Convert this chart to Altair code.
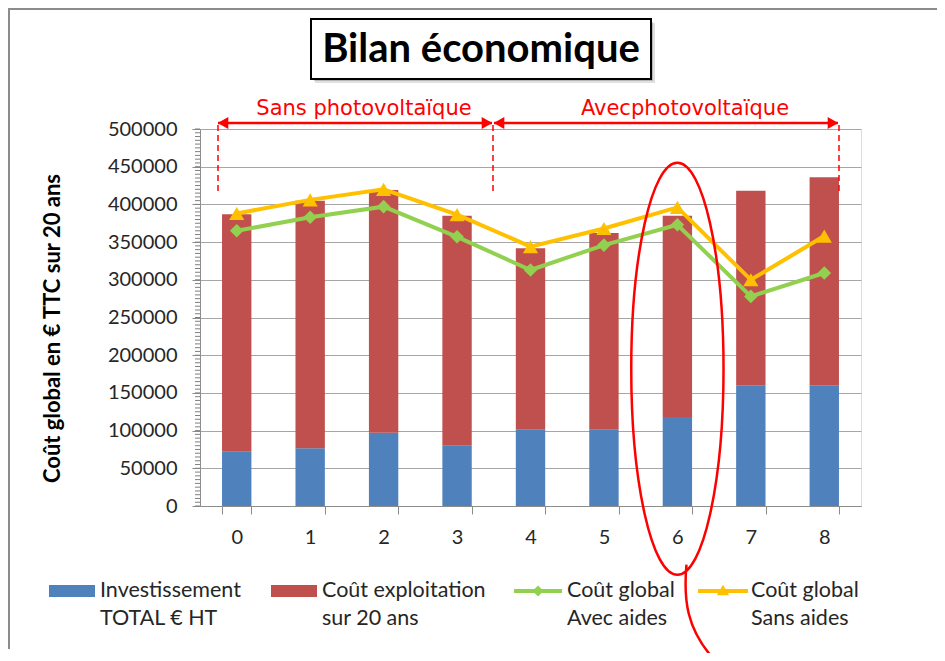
import altair as alt
import pandas as pd

# ---- data ----
categories = ["0", "1", "2", "3", "4", "5", "6", "7", "8"]
investissement = [72000, 76500, 97000, 80000, 101000, 101000, 118000, 160000, 160000]
exploitation = [315000, 328500, 322000, 305000, 241000, 261000, 267000, 258000, 276000]
global_avec_aides = [365000, 383000, 397000, 357000, 313000, 346000, 373000, 278000, 309000]
global_sans_aides = [388000, 406000, 420000, 386500, 344000, 368000, 396000, 300000, 358000]
y_ticks = [0, 50000, 100000, 150000, 200000, 250000, 300000, 350000, 400000, 450000, 500000]
minor_ticks = list(range(0, 500001, 5000))

series_names = ["Investissement|TOTAL € HT", "Coût exploitation|sur 20 ans",
                "Coût global|Avec aides", "Coût global|Sans aides"]
title_text = "Bilan économique"
y_title = "Coût global en € TTC sur 20 ans"
group_labels = ["Sans photovoltaïque", "Avecphotovoltaïque"]
highlight_category = "6"
highlight_value = 182000

BLUE, RED, GREEN, GOLD = "#4F81BD", "#C0504D", "#92D050", "#FFC000"
ANN = "#FF0000"
FONT = "Lato"
W, H = 661, 377

df = pd.DataFrame({
    "cat": categories,
    "inv": investissement,
    "expl": exploitation,
    "avec": global_avec_aides,
    "sans": global_sans_aides,
})

xaxis = alt.Axis(title=None, labelAngle=0, labelFont=FONT, labelFontSize=20,
                 labelColor="#262626", labelPadding=13, tickSize=8,
                 tickBand="extent", tickColor="#8c8c8c", domainColor="#8c8c8c",
                 grid=False)
xscale = alt.Scale(paddingInner=0.6, paddingOuter=0.3)
yscale = alt.Scale(domain=[0, 500000], nice=False)
yaxis = alt.Axis(values=y_ticks, format="d", title=y_title, labelFont=FONT,
                 labelFontSize=20, labelColor="#262626", labelPadding=15, tickSize=8,
                 labelOverlap=False,
                 tickColor="#8c8c8c", domainColor="#8c8c8c", gridColor="#a6a6a6",
                 gridWidth=1, titleFont=FONT, titleFontSize=22, titleFontWeight="bold",
                 titleColor="#000000", titleX=-148, titleY=199, titleAlign="center",
                 titleBaseline="middle")


def X():
    return alt.X("cat:N", sort=categories, scale=xscale, axis=xaxis)


def Y(field):
    return alt.Y(field, scale=yscale, axis=yaxis)


base = alt.Chart(df)

bars_inv = base.mark_bar(color=BLUE, opacity=1).encode(x=X(), y=Y("inv:Q"))
bars_exp = base.transform_calculate(top="datum.inv + datum.expl").mark_bar(
    color=RED, opacity=1).encode(x=X(), y=Y("inv:Q"), y2="top:Q")

line_avec = base.mark_line(color=GREEN, strokeWidth=4).encode(x=X(), y=Y("avec:Q"))
pts_avec = base.mark_point(shape="diamond", filled=True, size=185, color=GREEN,
                           opacity=1).encode(x=X(), y=Y("avec:Q"))
line_sans = base.mark_line(color=GOLD, strokeWidth=4).encode(x=X(), y=Y("sans:Q"))
pts_sans = base.mark_point(shape="triangle-up", filled=True, size=230, color=GOLD,
                           opacity=1).encode(x=X(), y=Y("sans:Q"))

minor = alt.Chart(pd.DataFrame({"v": minor_ticks})).mark_tick(
    orient="horizontal", color="#7f7f7f", thickness=1, size=5, opacity=1).encode(
    y=Y("v:Q"), x=alt.value(-2.5))

one = pd.DataFrame({"k": [0]})


def rule(x1, x2, y1, y2, color, width, dash=None):
    kw = dict(color=color, strokeWidth=width, opacity=1)
    if dash:
        kw["strokeDash"] = dash
    return alt.Chart(one).mark_rule(**kw).encode(
        x=alt.value(x1), x2=alt.value(x2), y=alt.value(y1), y2=alt.value(y2))


def text(s, x, y, size=21.5, color="#262626", font=FONT, weight="normal",
         align="left", baseline="middle"):
    return alt.Chart(pd.DataFrame({"t": [s]})).mark_text(
        font=font, fontSize=size, color=color, fontWeight=weight, align=align,
        baseline=baseline).encode(text="t:N", x=alt.value(x), y=alt.value(y))


def sym(shape, x, y, size, color):
    return alt.Chart(one).mark_point(shape=shape, filled=True, size=size, color=color,
                                     opacity=1).encode(x=alt.value(x), y=alt.value(y))


def box(x1, x2, y1, y2, fill, stroke=None, width=0, opacity=1):
    kw = dict(fill=fill, opacity=opacity)
    if stroke:
        kw["stroke"] = stroke
        kw["strokeWidth"] = width
    return alt.Chart(one).mark_rect(**kw).encode(
        x=alt.value(x1), x2=alt.value(x2), y=alt.value(y1), y2=alt.value(y2))


layers = []
# outer frame
layers.append(rule(-191, -191, -121, 520, "#8c8c8c", 2))
layers.append(rule(-192, 740, -120, -120, "#8c8c8c", 2))
# title box with shadow
layers.append(box(115, 455, -106, -46, "#000000", opacity=0.12))
layers.append(box(114, 453, -107, -48, "#000000", opacity=0.18))
layers.append(box(111, 451, -110, -50, "#ffffff", "#000000", 2))
layers.append(text(title_text, 281, -79, size=40, color="#000000", weight="bold",
                   align="center"))

# group annotations
layers.append(text(group_labels[0], 164, -14, size=21, color=ANN, font="DejaVu Sans",
                   align="center", baseline="alphabetic"))
layers.append(text(group_labels[1], 485, -14, size=21, color=ANN, font="DejaVu Sans",
                   align="center", baseline="alphabetic"))
layers.append(rule(18, 292, -6, -6, ANN, 2.5))
layers.append(rule(294, 638, -6, -6, ANN, 2.5))
layers.append(sym("triangle-left", 23, -6, 150, ANN))
layers.append(sym("triangle-right", 287, -6, 150, ANN))
layers.append(sym("triangle-left", 299, -6, 150, ANN))
layers.append(sym("triangle-right", 633, -6, 150, ANN))
for xv in (18, 293, 639):
    layers.append(rule(xv, xv, -4, 66, ANN, 1.5, [6, 4]))

# legend
ly1, ly2 = 462, 490
layers.append(box(-151, -105, 456, 468, BLUE))
layers.append(box(71, 117, 456, 468, RED))
layers.append(rule(314, 362, ly1, ly1, GREEN, 4))
layers.append(sym("diamond", 338, ly1, 120, GREEN))
layers.append(rule(498, 548, ly1, ly1, GOLD, 4))
layers.append(sym("triangle-up", 523, ly1 - 1, 150, GOLD))
for name, lx in zip(series_names, (-100, 122, 367, 551)):
    a, b = name.split("|")
    layers.append(text(a, lx, ly1))
    layers.append(text(b, lx, ly2))

ellipse_path = ("M0,-1 A0.224,1 0 1,1 0,1 A0.224,1 0 1,1 0,-1 "
                "M0.044,0.951 C0.029,1.121 0.044,1.267 0.184,1.417")
ellipse = alt.Chart(pd.DataFrame({"cat": [highlight_category], "v": [highlight_value]})
                    ).mark_point(shape=ellipse_path, filled=False, size=169744,
                                 stroke=ANN, strokeWidth=2.5, opacity=1).encode(
    x=X(), y=Y("v:Q"))

chart = alt.layer(
    bars_inv, bars_exp, line_avec, pts_avec, line_sans, pts_sans, ellipse, minor, *layers
).properties(
    width=W, height=H,
    autosize=alt.AutoSizeParams(type="none"),
    padding={"left": 192, "top": 121, "right": 76, "bottom": 147},
).configure_view(stroke=None).configure(background="#ffffff")

chart.save("out.html", embed_options={"renderer": "svg", "actions": False})
